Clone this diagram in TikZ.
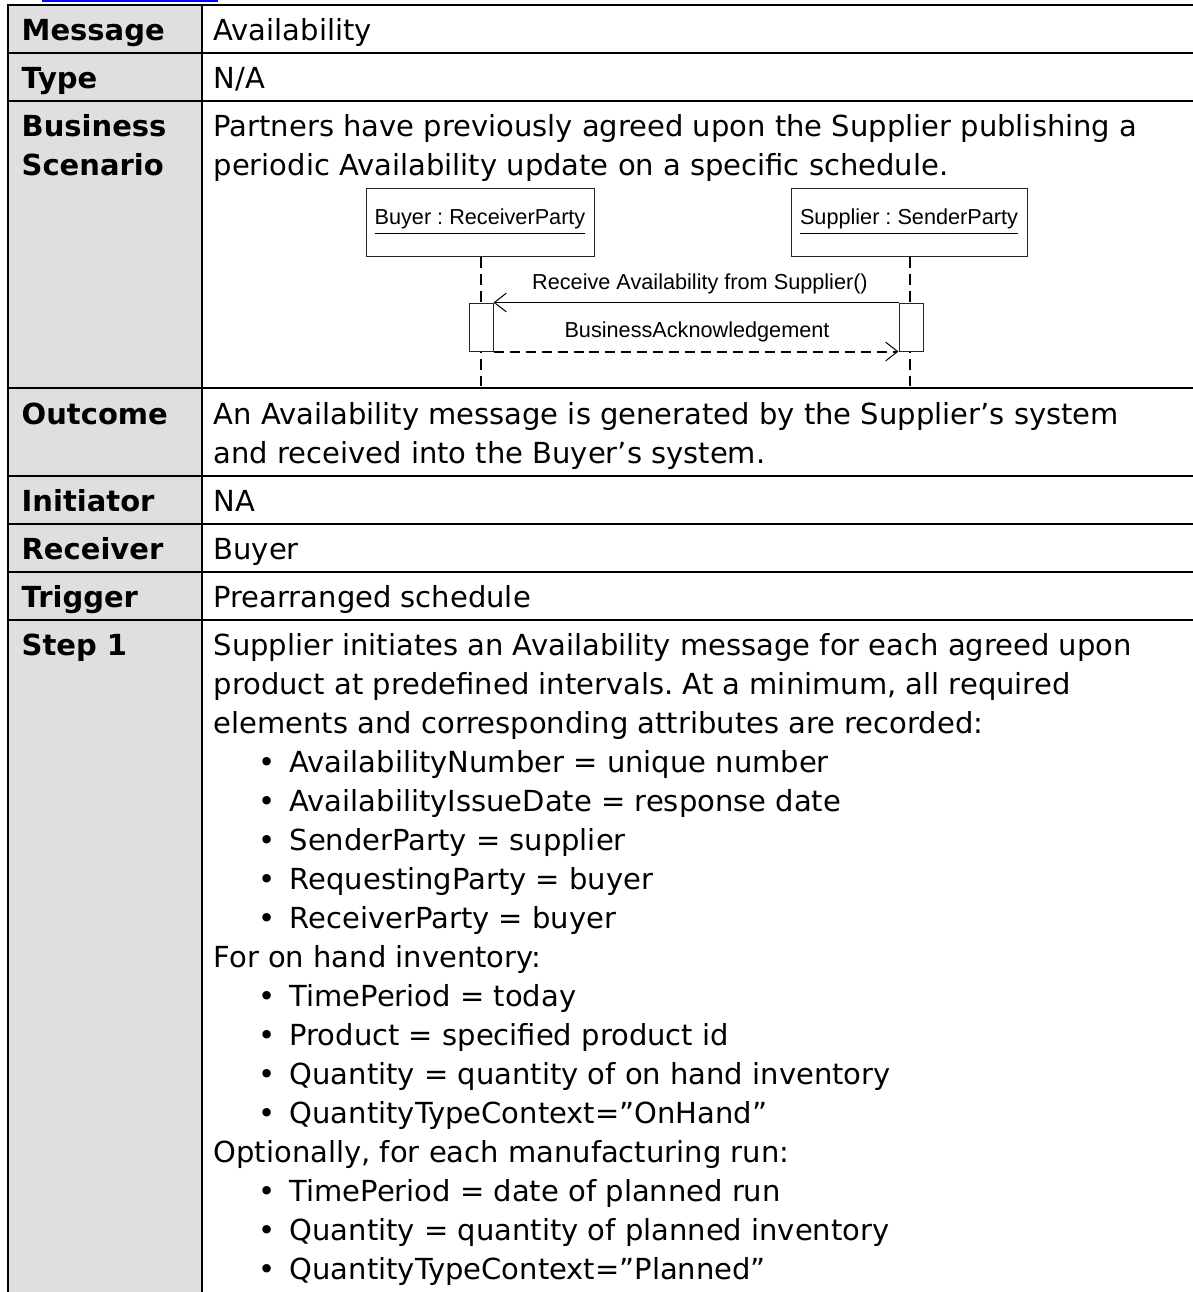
\documentclass[tikz,border=0pt]{standalone}
\usepackage{fontspec}
\setmainfont{DejaVu Sans}
\newfontfamily\umlfont{Liberation Sans}
\usetikzlibrary{arrows.meta}
\definecolor{labelgray}{RGB}{223,223,223}
\definecolor{linkblue}{RGB}{0,0,255}
\frenchspacing
\newcommand\bodyfont{\fontsize{8.7pt}{11.7pt}\selectfont}
\newcommand\headfont{\fontsize{8.7pt}{11.7pt}\selectfont\bfseries}
\newcommand\umlsize{\umlfont\fontsize{6.5pt}{7.8pt}\selectfont}
\tikzset{
  grid/.style={line width=0.7pt, black},
  cell/.style={anchor=base west, inner sep=0pt, font=\bodyfont},
  head/.style={anchor=base west, inner sep=0pt, font=\headfont},
  dot/.style={anchor=base, inner sep=0pt, font=\bodyfont},
  umlbox/.style={draw=black!85, line width=0.3pt, fill=white, inner sep=0pt, font=\umlsize},
  actbox/.style={draw=black!85, line width=0.3pt, fill=white, inner sep=0pt,
    minimum width=7.2pt, minimum height=14.4pt},
  lifeline/.style={line width=0.6pt, dash pattern=on 3.3pt off 1.8pt},
  umllabel/.style={anchor=base, inner sep=0pt, font=\umlsize},
  barb/.tip={Straight Barb[length=3.6pt, width=5.6pt, line width=0.3pt]},
  msg/.style={line width=0.3pt, -barb},
  reply/.style={line width=0.6pt, dash pattern=on 3pt off 1.8pt, -barb}
}
\begin{document}
\begin{tikzpicture}[x=0.3pt, y=-0.3pt]
\useasboundingbox (0,0) rectangle (1193,1292);

% hyperlink underline above the table
\draw[linkblue, line width=0.6pt] (42,1) -- (218,1);

% label column background and table rules
\fill[labelgray] (8,5) rectangle (202,1293);
\draw[grid] (8,1294) -- (8,5) -- (1195,5);
\draw[grid] (202,5) -- (202,1294);
\foreach \ry in {53,101,388,476,524,572,620}
  \draw[grid] (8,\ry) -- (1195,\ry);

% row labels
\node[head] (hmsg)  at (21,40)  {Message};
\node[head] (htype) at (21,88)  {Type};
\node[head] (hbs1)  at (21,136) {Business};
\node[head] (hbs2)  at (21,175) {Scenario};
\node[head] (hout)  at (21,424) {Outcome};
\node[head] (hinit) at (21,511) {Initiator};
\node[head] (hrec)  at (21,559) {Receiver};
\node[head] (htrig) at (21,607) {Trigger};
\node[head] (hstep) at (21,655) {Step 1};

% row values
\node[cell] (vmsg)  at (213,40)  {Availability};
\node[cell] (vtype) at (213,88)  {N/A};
\node[cell] (vbs1)  at (213,136) {Partners have previously agreed upon the Supplier publishing a};
\node[cell] (vbs2)  at (213,175) {periodic Availability update on a specific schedule.};
\node[cell] (vout1) at (213,424) {An Availability message is generated by the Supplier’s system};
\node[cell] (vout2) at (213,463) {and received into the Buyer’s system.};
\node[cell] (vinit) at (213,511) {NA};
\node[cell] (vrec)  at (213,559) {Buyer};
\node[cell] (vtrig) at (213,607) {Prearranged schedule};

% step 1 text, one line each
\foreach \lx/\lt [count=\i] in {
  213/{Supplier initiates an Availability message for each agreed upon},
  213/{product at predefined intervals. At a minimum, all required},
  213/{elements and corresponding attributes are recorded:},
  289/{AvailabilityNumber = unique number},
  289/{AvailabilityIssueDate = response date},
  289/{SenderParty = supplier},
  289/{RequestingParty = buyer},
  289/{ReceiverParty = buyer},
  213/{For on hand inventory:},
  289/{TimePeriod = today},
  289/{Product = specified product id},
  289/{Quantity = quantity of on hand inventory},
  289/{QuantityTypeContext=”OnHand”},
  213/{Optionally, for each manufacturing run:},
  289/{TimePeriod = date of planned run},
  289/{Quantity = quantity of planned inventory},
  289/{QuantityTypeContext=”Planned”}}
  \node[cell] (s\i) at (\lx,{655+39.06*(\i-1)}) {\lt};
\foreach \i in {4,5,6,7,8,10,11,12,13,15,16,17}
  \node[dot] (b\i) at (267,{655+39.06*(\i-1)}) {•};

% sequence diagram
\node[umlbox, minimum width=68.4pt, minimum height=20.4pt] (buyer) at (480,222)
  {\underline{Buyer : ReceiverParty}};
\node[umlbox, minimum width=70.8pt, minimum height=20.4pt] (supplier) at (909,222)
  {\underline{Supplier : SenderParty}};
\coordinate (buyerend) at (481,386);
\coordinate (supend) at (910,386);
\draw[lifeline] ([xshift=0.3pt]buyer.south) -- ([xshift=0.3pt]buyer.south |- buyerend);
\draw[lifeline] ([xshift=0.3pt]supplier.south) -- ([xshift=0.3pt]supplier.south |- supend);
\node[actbox] (bact) at (481,327) {};
\node[actbox] (sact) at (911,327) {};
\draw[msg] (sact.north west) -- (bact.north east);
\draw[reply] (bact.south east) -- (sact.south west);
\node[umllabel] (lbl1) at (700,289) {Receive Availability from Supplier()};
\node[umllabel] (lbl2) at (697,337) {BusinessAcknowledgement};
\end{tikzpicture}
\end{document}
